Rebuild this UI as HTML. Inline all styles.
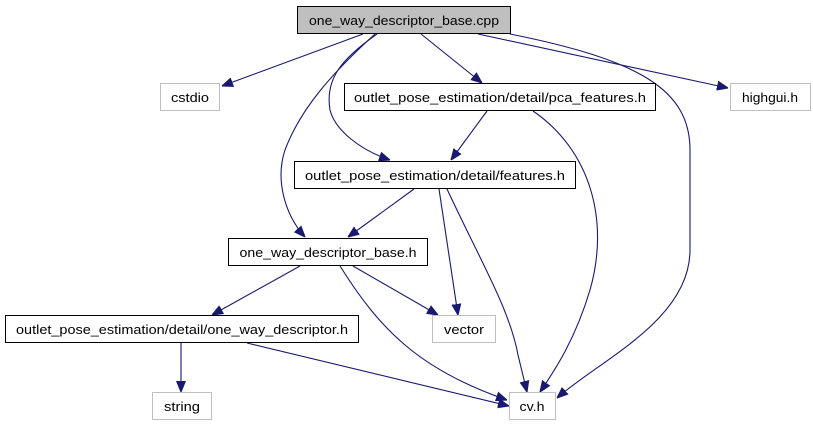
<!DOCTYPE html>
<html><head><meta charset="utf-8"><style>html,body{margin:0;padding:0;background:#fff;}svg{display:block}</style></head>
<body>
<svg width="813" height="427" viewBox="0 0 813 427" xmlns="http://www.w3.org/2000/svg" font-family="Liberation Sans, sans-serif" font-size="13">
<defs><marker id="a" viewBox="0 0 10 10" refX="10" refY="5" markerWidth="11" markerHeight="11" markerUnits="userSpaceOnUse" orient="auto"><path d="M0,1 L10,5 L0,9 z" fill="#191970" stroke="#191970"/></marker></defs>
<g fill="none" stroke="#191970" stroke-width="1.1" marker-end="url(#a)">
<path d="M363,34 L222,86"/>
<path d="M421,34 L482,83"/>
<path d="M478,34 L728,88"/>
<path d="M510,34 C640,60 690,90 690,150 L690,250 C690,320 600,360 557,398"/>
<path d="M377,34 C340,60 325,80 330,110 C335,130 360,150 390,160"/>
<path d="M375,34 C330,75 300,110 285,150 C275,180 285,215 305,237"/>
<path d="M487,111 L451,160"/>
<path d="M533,111 C590,150 610,220 590,290 C575,340 555,370 540,392"/>
<path d="M414,189 L348,237"/>
<path d="M439,189 L458,315"/>
<path d="M447,189 C480,260 510,310 518,355 L527,392"/>
<path d="M300,266 L212,315"/>
<path d="M353,266 L438,315"/>
<path d="M340,266 C380,330 420,370 507,400"/>
<path d="M181,343 L181,392"/>
<path d="M247,343 L509,406"/>
</g>
<g stroke-width="1">
<rect x="297.5" y="6.5" width="213" height="27" fill="#bfbfbf" stroke="#000"/>
<rect x="160.5" y="83.5" width="59" height="27" fill="#fff" stroke="#bfbfbf"/>
<rect x="344.5" y="83.5" width="311" height="27" fill="#fff" stroke="#000"/>
<rect x="730.5" y="83.5" width="80" height="27" fill="#fff" stroke="#bfbfbf"/>
<rect x="294.5" y="161.5" width="281" height="27" fill="#fff" stroke="#000"/>
<rect x="228.5" y="238.5" width="199" height="27" fill="#fff" stroke="#000"/>
<rect x="5.5" y="315.5" width="353" height="27" fill="#fff" stroke="#000"/>
<rect x="432.5" y="315.5" width="63" height="27" fill="#fff" stroke="#bfbfbf"/>
<rect x="152.5" y="392.5" width="59" height="27" fill="#fff" stroke="#bfbfbf"/>
<rect x="509.5" y="392.5" width="46" height="27" fill="#fff" stroke="#bfbfbf"/>
</g>
<g fill="#000" text-anchor="middle">
<text x="404" y="25" textLength="190" lengthAdjust="spacingAndGlyphs">one_way_descriptor_base.cpp</text>
<text x="190" y="102" textLength="38" lengthAdjust="spacingAndGlyphs">cstdio</text>
<text x="500" y="102" textLength="292" lengthAdjust="spacingAndGlyphs">outlet_pose_estimation/detail/pca_features.h</text>
<text x="770" y="102" textLength="56" lengthAdjust="spacingAndGlyphs">highgui.h</text>
<text x="435" y="180" textLength="260" lengthAdjust="spacingAndGlyphs">outlet_pose_estimation/detail/features.h</text>
<text x="328" y="257" textLength="177" lengthAdjust="spacingAndGlyphs">one_way_descriptor_base.h</text>
<text x="182" y="334" textLength="332" lengthAdjust="spacingAndGlyphs">outlet_pose_estimation/detail/one_way_descriptor.h</text>
<text x="464" y="334" textLength="40" lengthAdjust="spacingAndGlyphs">vector</text>
<text x="182" y="411" textLength="36" lengthAdjust="spacingAndGlyphs">string</text>
<text x="532" y="411" textLength="25" lengthAdjust="spacingAndGlyphs">cv.h</text>
</g>
</svg>
</body></html>
